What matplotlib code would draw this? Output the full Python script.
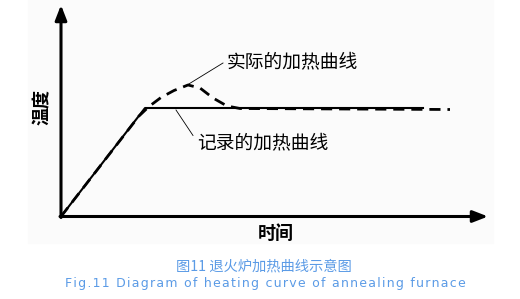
import matplotlib.pyplot as plt
from matplotlib.patches import Rectangle

plt.rcParams['font.family'] = ['Noto Sans CJK SC', 'DejaVu Sans']

# 记录的加热曲线（时间, 温度）
rec_t = [0, 84, 362]
rec_T = [0, 108.5, 108.5]

# 实际的加热曲线：升温后超调再回落
act_t = [0, 78, 88, 100, 113, 127, 139, 152, 166, 179, 389]
act_T = [0, 100.5, 110, 119, 126, 131.5, 128.5, 118.5, 110.5, 108, 107]

label_actual = '实际的加热曲线'
label_record = '记录的加热曲线'
xlabel = '时间'
ylabel = '温度'
caption_cn = '图11 退火炉加热曲线示意图'
caption_en = 'Fig.11 Diagram of heating curve of annealing furnace'

fig = plt.figure(figsize=(5.2, 2.99), dpi=100)
ax = fig.add_axes([0, 0, 1, 1])
ax.set_xlim(-61, 459)
ax.set_ylim(-82.5, 216.5)
ax.axis('off')

# 浅灰底图
ax.add_patch(Rectangle((-33, -26.5), 465, 243, color='#fbfbfb', zorder=0))

# 坐标轴箭头
arrow = dict(arrowstyle='-|>,head_length=0.9,head_width=0.35', lw=2.2, color='black',
             shrinkA=0, shrinkB=0)
ax.annotate('', xy=(0, 211.5), xytext=(0, -1), arrowprops=arrow)
ax.annotate('', xy=(427, 0), xytext=(-1, 0), arrowprops=arrow)

ax.plot(rec_t, rec_T, color='black', lw=1.5, zorder=3)
ax.plot(act_t, act_T, color='black', lw=2.0, ls=(0, (4, 2.5)), zorder=3)

# 标注
ax.plot([127, 162], [132, 153.5], color='black', lw=0.6)
ax.text(166, 154.5, label_actual, fontsize=13.5, fontweight='medium', va='center', ha='left')
ax.plot([115, 132], [106.5, 81], color='black', lw=0.6)
ax.text(136, 73.5, label_record, fontsize=13.5, fontweight='medium', va='center', ha='left')

ax.text(215, -16.5, xlabel, fontsize=13, fontweight='bold', ha='center', va='center')
ax.text(-19, 109.5, ylabel, fontsize=13, fontweight='bold', ha='center', va='center',
        rotation=90)

# 图题（英文加字距）
ax.text(203, -49.5, caption_cn, fontsize=10.3, color='#5b9be6', ha='center', va='center')
ax.text(204, -67.5, '\u200a'.join(caption_en), fontsize=9.0, color='#5b9be6',
        ha='center', va='center', family='DejaVu Sans')

fig.savefig('out.png', dpi=100)
